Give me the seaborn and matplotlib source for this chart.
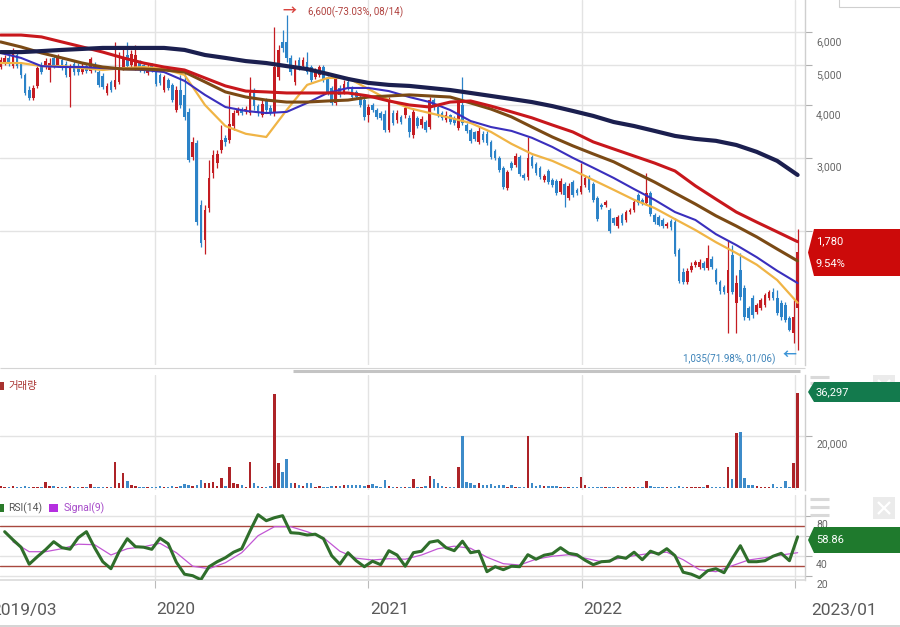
"""
Weekly candlestick chart with moving averages, a volume panel and an RSI panel.
Values are read off a screenshot of a brokerage app chart (2019/04 - 2023/01).
"""

import numpy as np
import pandas as pd
import matplotlib
matplotlib.use("Agg")
import matplotlib.pyplot as plt
import matplotlib.dates as mdates
from matplotlib.lines import Line2D
from matplotlib.patches import Polygon, Rectangle
from matplotlib.ticker import NullLocator
import seaborn as sns

sns.set_theme(style="white")
plt.rcParams["font.family"] = ["Roboto", "Noto Sans CJK KR", "DejaVu Sans"]

# Constants
OUT_FILE = "out.png"
FIG_W, FIG_H = 900, 627
FIRST_WEEK = "2019-04-12"

# ---------------------------------------------------------------- data
# weekly candles (KRW), one value per week starting FIRST_WEEK
opens = [
    4945, 5055, 5200, 4970, 5285, 5030, 4735, 4355, 4170, 4455,
    4970, 4945, 4865, 5200, 5000, 5140, 5030, 4680, 5030, 4970,
    4810, 4970, 4840, 5000, 4810, 4705, 4285, 4555, 4430, 4555,
    4915, 5285, 5000, 4915, 5080, 5000, 4785, 5000, 4865, 4735,
    4355, 4605, 4480, 3900, 4355, 4240, 3860, 3010, 3250, 2310,
    1905, 2270, 2755, 2910, 3130, 3345, 3305, 3570, 3835, 3900,
    3880, 3835, 4355, 3985, 3795, 4100, 3940, 3835, 4680, 5680,
    5680, 5200, 4555, 5140, 4970, 5080, 4945, 4680, 4735, 4945,
    4655, 4405, 4055, 4405, 4310, 4555, 4405, 4310, 4190, 4120,
    3795, 4010, 3900, 3835, 3815, 3495, 3835, 3690, 3755, 3795,
    3735, 3400, 3735, 3590, 3650, 3550, 4120, 3965, 3835, 3690,
    3795, 3735, 3530, 4010, 3590, 3495, 3455, 3270, 3415, 3415,
    3270, 3110, 2990, 2830, 2535, 2910, 2880, 3010, 2725, 2695,
    3010, 2895, 2835, 2650, 2785, 2650, 2635, 2480, 2595, 2400,
    2620, 2510, 2480, 2580, 2695, 2595, 2400, 2310, 2310, 2245,
    2150, 2055, 2185, 2125, 2220, 2245, 2440, 2375, 2335, 2465,
    2185, 2160, 2125, 2055, 2115, 2100, 1800, 1595, 1510, 1610,
    1660, 1640, 1675, 1630, 1715, 1610, 1510, 1470, 1420, 1750,
    1345, 1610, 1460, 1310, 1380, 1280, 1305, 1330, 1380, 1430,
    1380, 1345, 1330, 1235, 1140, 1310,
]
closes = [
    5140, 5200, 5030, 5370, 4970, 4735, 4285, 4170, 4405, 4915,
    4810, 5110, 5055, 4970, 5230, 4945, 4735, 4945, 4810, 4810,
    4970, 4840, 5170, 4865, 4480, 4430, 4455, 4355, 4605, 4915,
    5230, 4970, 5315, 5285, 4865, 4840, 4945, 4890, 4505, 4530,
    4680, 4405, 4120, 4355, 4010, 3755, 2960, 3270, 2100, 1870,
    2245, 2680, 3045, 3060, 3305, 3270, 3610, 3835, 3900, 3835,
    3920, 4285, 3985, 3835, 4030, 3900, 3835, 4945, 5435, 5495,
    5200, 4810, 4945, 4945, 5140, 4810, 4605, 4865, 4945, 4605,
    4310, 4055, 4655, 4240, 4505, 4405, 4190, 4190, 4010, 3755,
    3965, 3900, 3755, 3735, 3495, 4120, 3630, 3835, 3650, 3940,
    3455, 3860, 3570, 3710, 3495, 4120, 3965, 3795, 3735, 3795,
    3650, 3630, 4100, 3630, 3475, 3290, 3325, 3475, 3305, 3250,
    3010, 2990, 2800, 2550, 2770, 2835, 3025, 2740, 2680, 2990,
    2865, 2755, 2695, 2710, 2620, 2580, 2465, 2635, 2440, 2565,
    2440, 2465, 2565, 2680, 2510, 2375, 2135, 2285, 2350, 2000,
    2090, 2160, 2090, 2220, 2245, 2350, 2335, 2335, 2465, 2195,
    2100, 2065, 2055, 2080, 2045, 1760, 1520, 1510, 1605, 1650,
    1685, 1685, 1630, 1725, 1640, 1510, 1435, 1430, 1610, 1430,
    1500, 1390, 1245, 1235, 1260, 1330, 1365, 1405, 1430, 1380,
    1270, 1245, 1225, 1160, 1245, 1780,
]
highs = [
    5230, 5285, 5285, 5495, 5370, 5080, 4785, 4455, 4480, 4970,
    5080, 5200, 5200, 5285, 5315, 5200, 5110, 5030, 5110, 5055,
    5080, 5030, 5230, 5080, 4865, 4785, 4530, 4605, 5680, 5370,
    5525, 5680, 5435, 5585, 5140, 5055, 5030, 5055, 4915, 4785,
    4735, 4655, 4530, 4455, 4735, 4785, 3940, 3360, 3305, 2375,
    2310, 2960, 3130, 3130, 3590, 3400, 4240, 3900, 3965, 3965,
    3985, 4680, 4405, 4030, 4120, 4170, 4010, 6170, 5585, 6070,
    6600, 5285, 5140, 5230, 5230, 5370, 5000, 4915, 5000, 5000,
    4705, 4455, 4735, 4480, 4605, 4605, 4455, 4355, 4240, 4170,
    4030, 4055, 3940, 3880, 3900, 4190, 3900, 3900, 3795, 4010,
    3795, 3940, 3775, 3775, 3690, 4190, 4170, 4010, 3880, 3880,
    3815, 3775, 4170, 4680, 3630, 3535, 3475, 3550, 3475, 3475,
    3305, 3145, 3025, 2865, 2800, 2945, 3075, 3045, 2755, 3360,
    3045, 2930, 2865, 2740, 2815, 2680, 2665, 2680, 2620, 2610,
    2650, 2535, 2910, 2725, 2725, 2620, 2425, 2335, 2375, 2270,
    2160, 2185, 2210, 2245, 2270, 2375, 2465, 2400, 2755, 2495,
    2210, 2185, 2150, 2100, 2135, 2150, 1820, 1630, 1630, 1685,
    1705, 1715, 1695, 1850, 1745, 1630, 1525, 1485, 1905, 1850,
    1570, 1770, 1485, 1320, 1405, 1340, 1380, 1420, 1445, 1460,
    1445, 1365, 1350, 1250, 1365, 2020,
]
lows = [
    4890, 5000, 4970, 4915, 4915, 4655, 4240, 4120, 4120, 4405,
    4760, 4890, 4555, 4915, 4945, 4865, 4680, 3960, 4735, 4735,
    4760, 4785, 4785, 4810, 4430, 4380, 4240, 4310, 4380, 4505,
    4865, 4915, 4945, 4865, 4810, 4785, 4735, 4810, 4455, 4480,
    4310, 4355, 4075, 3860, 3940, 3690, 2930, 2960, 2065, 1830,
    1760, 2220, 2680, 2835, 3075, 3200, 3250, 3495, 3795, 3795,
    3815, 3795, 3900, 3775, 3755, 3835, 3795, 3775, 4605, 5370,
    5080, 4735, 4480, 4865, 4890, 4760, 4555, 4630, 4680, 4555,
    4240, 4010, 4010, 4190, 4260, 4355, 4145, 4145, 3965, 3690,
    3650, 3860, 3710, 3690, 3455, 3455, 3590, 3630, 3610, 3735,
    3360, 3345, 3530, 3530, 3455, 3515, 3900, 3755, 3690, 3650,
    3610, 3590, 3495, 3590, 3435, 3250, 3290, 3235, 3270, 3215,
    2975, 2960, 2770, 2520, 2510, 2800, 2850, 2710, 2650, 2650,
    2835, 2725, 2665, 2620, 2595, 2550, 2440, 2455, 2285, 2375,
    2415, 2440, 2455, 2550, 2480, 2350, 2115, 2260, 2285, 1980,
    2065, 2030, 2065, 2100, 2195, 2220, 2310, 2310, 2310, 2170,
    2080, 2055, 2030, 2030, 2010, 1745, 1500, 1495, 1495, 1595,
    1640, 1620, 1610, 1610, 1620, 1495, 1410, 1410, 1140, 1410,
    1140, 1365, 1225, 1225, 1240, 1265, 1295, 1315, 1365, 1365,
    1260, 1225, 1210, 1150, 1080, 1035,
]
volume = [
    700, 500, 600, 900, 500, 600, 700, 500, 600, 500,
    600, 2500, 1000, 900, 500, 500, 600, 700, 500, 600,
    500, 500, 1500, 600, 500, 400, 500, 600, 10100, 1900,
    5900, 2800, 1300, 800, 600, 500, 600, 500, 600, 700,
    600, 500, 700, 600, 800, 1500, 1300, 700, 1300, 3200,
    1900, 1900, 2500, 700, 3800, 900, 8200, 2200, 1600, 1300,
    600, 9900, 1900, 700, 500, 600, 700, 35700, 9500, 6300,
    11100, 1900, 1900, 1300, 700, 1900, 1900, 500, 900, 500,
    600, 700, 1000, 1000, 1200, 1100, 1200, 1300, 1100, 900,
    1400, 1500, 700, 600, 3200, 700, 600, 500, 600, 500,
    600, 3600, 600, 500, 700, 4800, 3600, 1900, 800, 600,
    500, 600, 8000, 20000, 2500, 1900, 1300, 1900, 1300, 1300,
    1600, 900, 1300, 1300, 600, 1300, 500, 400, 600, 20000,
    2100, 900, 1300, 900, 700, 900, 700, 600, 500, 500,
    500, 600, 4200, 1300, 500, 400, 500, 400, 400, 500,
    400, 500, 400, 400, 500, 400, 500, 600, 2900, 900,
    500, 400, 400, 500, 400, 600, 700, 500, 600, 500,
    500, 600, 500, 1300, 500, 600, 500, 600, 8000, 3600,
    20900, 21500, 3900, 1300, 1300, 700, 600, 600, 600, 1500,
    500, 500, 2800, 400, 9700, 36297,
]

# moving averages, read every 5th week
MA_EVERY = 5
ma_yellow = [5055, 5055, 4970, 4970, 4915, 4865, 4915, 4945, 4890, 4735,
             4010, 3570, 3420, 3360, 3900, 4480, 4655, 4655, 4380, 4120,
             3940, 3835, 3735, 3630, 3455, 3235, 3060, 2945, 2800, 2650,
             2510, 2375, 2270, 2135, 2010, 1880, 1770, 1660, 1525, 1345]
ma_blue = [5345, 5200, 4970, 4945, 4945, 4915, 4890, 4865, 4810, 4580,
           4240, 3965, 3880, 3835, 3860, 4055, 4285, 4405, 4405, 4330,
           4190, 4075, 3900, 3670, 3550, 3475, 3345, 3180, 2995, 2835,
           2680, 2520, 2375, 2220, 2125, 1965, 1850, 1730, 1605, 1500]
ma_brown = [5680, 5525, 5345, 5200, 5055, 4945, 4890, 4890, 4865, 4810,
            4555, 4310, 4190, 4120, 4075, 4075, 4100, 4120, 4190, 4215,
            4240, 4215, 4190, 4055, 3920, 3755, 3550, 3360, 3200, 3060,
            2930, 2770, 2620, 2465, 2320, 2175, 2055, 1935, 1810, 1695]
ma_red = [5900, 5900, 5840, 5680, 5525, 5370, 5200, 5055, 4945, 4865,
          4655, 4455, 4330, 4310, 4285, 4285, 4285, 4285, 4215, 4100,
          4010, 3965, 4075, 4100, 3985, 3860, 3735, 3590, 3455, 3270,
          3145, 3025, 2910, 2785, 2565, 2385, 2220, 2100, 1990, 1885]
ma_navy = [5370, 5370, 5400, 5435, 5465, 5495, 5495, 5495, 5495, 5435,
           5285, 5200, 5110, 5055, 4970, 4890, 4760, 4630, 4530, 4480,
           4455, 4405, 4355, 4285, 4215, 4145, 4075, 3985, 3880, 3775,
           3650, 3570, 3475, 3380, 3325, 3290, 3215, 3095, 2945, 2725]

# RSI(14) read every 2nd week (from week 1), Signal(9) every 4th (from week 3)
rsi_values = [64, 56, 48.5, 31.5, 39, 46, 54, 48, 46.5, 58,
              64, 48, 34, 27, 44, 57, 49, 48.5, 46.4, 57.5,
              52, 33.5, 21.5, 20, 16, 29, 34, 38, 43.5, 47,
              64.5, 81, 75, 78, 80, 63, 62.4, 60.7, 61.5, 57,
              40, 31.5, 43, 35, 29, 34.5, 31, 45, 40.7, 29.5,
              43, 44.5, 53.5, 55, 48,
              45, 54.5, 43, 44.5, 24, 29, 26, 29.5, 29, 41,
              36.5, 40.5, 42, 48, 42.4, 41, 35.5, 31, 34, 34.5,
              39, 37.4, 43.5, 36, 44.5, 41.5, 47, 40, 23.5, 21.5,
              18, 25, 27, 23, 37, 50, 34, 34, 35, 39.5,
              42.4, 35, 58.86]
signal_values = [54, 44, 44, 47, 51.5, 51, 40.7, 47, 49, 52.4,
                 43, 29.5, 27, 33, 43, 60, 69, 69, 64, 58,
                 44.5, 37.5, 35.7, 37, 36.5, 40.7, 47,
                 49.5, 47.4, 38.5, 32, 30.7, 36.5, 39.5, 41, 37.5, 34,
                 37, 40, 42.4, 43.5, 36, 26, 24, 30, 35.7, 38,
                 40.7, 43]

price_ticks = [2000, 3000, 4000, 5000, 6000]
price_labels = [3000, 4000, 5000, 6000]      # 2,000 sits under the price tag
volume_ticks = [20000]
rsi_ticks = [80, 60, 40, 20]
rsi_labels = [80, 40, 20]                    # 60 sits under the RSI tag
rsi_bands = [70, 30]
x_labels = ["2019/03", "2020", "2021", "2022", "2023/01"]
x_label_dates = ["2019-03-01", "2020-01-01", "2021-01-01", "2022-01-01", "2023-01-01"]
year_lines = ["2020-01-01", "2021-01-01", "2022-01-01", "2023-01-01"]
last_change = "9.54%"

# ---------------------------------------------------------------- style
UP = "#c41c22"
DOWN = "#2c83c8"
VOL_UP = "#ad2328"
VOL_DOWN = "#3d8bc9"
GRID = "#e3e3e3"
TEXT = "#666666"
X_LABEL_SHIFT = [15, 2, 2, 2, 17]   # px, label start right of its date line
X_START = pd.Timestamp("2019-04-11")
X_END = pd.Timestamp("2023-01-18") + pd.Timedelta(hours=16)


def px_x(x):
    return x / FIG_W


def px_y(y):
    return 1 - y / FIG_H


def right_labels(ax, values, drop_px, fmt="{:,}"):
    for v in values:
        ax.annotate(fmt.format(v), xy=(1, v), xycoords=("axes fraction", "data"),
                    xytext=(8, -drop_px * 0.72), textcoords="offset points",
                    ha="left", va="center", fontsize=7.5, color=TEXT,
                    annotation_clip=False)


def tag(fig, y_top, y_bot, color, lines):
    ym = (y_top + y_bot) / 2
    pts = [(808, ym), (814, y_top), (905, y_top), (905, y_bot), (814, y_bot)]
    fig.add_artist(Polygon([(px_x(x), px_y(y)) for x, y in pts], closed=True,
                           transform=fig.transFigure, facecolor=color,
                           edgecolor="none", zorder=5))
    step = (y_bot - y_top) / len(lines)
    for k, s in enumerate(lines):
        fig.text(px_x(816), px_y(y_top + (k + 0.5) * step), s, color="white",
                 fontsize=8, ha="left", va="center", zorder=6)


def fig_rect(fig, x0, y0, x1, y1, color, zorder=4):
    fig.add_artist(Rectangle((px_x(x0), px_y(y1)), (x1 - x0) / FIG_W, (y1 - y0) / FIG_H,
                             transform=fig.transFigure, facecolor=color,
                             edgecolor="none", zorder=zorder))


def fig_line(fig, x0, x1, y0, y1, color, lw, zorder=4):
    fig.add_artist(Line2D([px_x(x0), px_x(x1)], [px_y(y0), px_y(y1)],
                          transform=fig.transFigure, color=color, lw=lw,
                          solid_capstyle="butt", zorder=zorder))


def main():
    dates = pd.date_range(FIRST_WEEK, periods=len(closes), freq="W-FRI")
    xd = mdates.date2num(dates)
    o, h, l, c = (np.array(v, dtype=float) for v in (opens, highs, lows, closes))
    rising = c >= o

    fig = plt.figure(figsize=(FIG_W / 100, FIG_H / 100), dpi=100)
    ax = fig.add_axes([0, px_y(365), px_x(805), 365 / FIG_H])
    ax_vol = fig.add_axes([0, px_y(490), px_x(805), 115 / FIG_H])
    ax_rsi = fig.add_axes([0, px_y(580), px_x(805), 85 / FIG_H])

    x_lim = (mdates.date2num(X_START), mdates.date2num(X_END))
    year_x = mdates.date2num(pd.to_datetime(year_lines))

    # price panel
    ax.vlines(xd, l, h, colors=np.where(rising, UP, DOWN), lw=0.9, zorder=2)
    ax.bar(xd, np.abs(c - o), bottom=np.minimum(o, c), width=4.6,
           color=np.where(rising, UP, DOWN), lw=0, zorder=3)
    ma_x = xd[::MA_EVERY]
    for vals, color, lw in ((ma_yellow, "#f0b445", 1.6), (ma_blue, "#3a2fbd", 1.5),
                            (ma_brown, "#7b4a15", 2.2), (ma_red, "#c8171c", 2.2),
                            (ma_navy, "#1b1f4f", 3.0)):
        sns.lineplot(x=ma_x, y=vals, ax=ax, color=color, linewidth=lw, zorder=4)
    ax.set_yscale("log")
    ax.set_ylim(954, 7160)
    for v in price_ticks:
        ax.axhline(v, color=GRID, lw=1, zorder=0)

    hi = int(np.argmax(h))
    lo = int(np.argmin(l))
    ax.annotate("→", xy=(xd[hi], h[hi]), xytext=(3 * 0.72, 4 * 0.72),
                textcoords="offset points", ha="center", va="center",
                fontsize=10, fontweight="bold", color="#d9443f")
    ax.annotate(f"{h[hi]:,.0f}({(c[-1] / h[hi] - 1) * 100:.2f}%, {dates[hi]:%m/%d})",
                xy=(xd[hi], h[hi]), xytext=(21 * 0.72, 3 * 0.72),
                textcoords="offset points", ha="left", va="center",
                fontsize=7, color="#b0413e")
    ax.annotate("←", xy=(xd[lo], l[lo]), xytext=(-8 * 0.72, -5 * 0.72),
                textcoords="offset points", ha="center", va="center",
                fontsize=10, fontweight="bold", color="#3b93d6")
    ax.annotate(f"{l[lo]:,.0f}({(c[-1] / l[lo] - 1) * 100:.2f}%, {dates[lo]:%m/%d})",
                xy=(xd[lo], l[lo]), xytext=(-22 * 0.72, -9 * 0.72),
                textcoords="offset points", ha="right", va="center",
                fontsize=7, color="#3b82b8")

    # volume panel
    ax_vol.bar(xd, volume, width=4.2, color=np.where(rising, VOL_UP, VOL_DOWN),
               lw=0, zorder=3)
    ax_vol.set_ylim(-650, 43050)
    for v in volume_ticks:
        ax_vol.axhline(v, color=GRID, lw=1, zorder=0)

    # RSI panel
    for v in rsi_ticks:
        ax_rsi.axhline(v, color=GRID, lw=1, zorder=0)
    for v in rsi_bands:
        ax_rsi.axhline(v, color="#a8483f", lw=1, zorder=1)
    sns.lineplot(x=xd[3::4], y=signal_values, ax=ax_rsi, color="#c257d4",
                 linewidth=0.9, zorder=3)
    sns.lineplot(x=xd[1::2], y=rsi_values, ax=ax_rsi, color="#2f6e2b",
                 linewidth=2.2, zorder=4)
    ax_rsi.set_ylim(15.7, 100.7)

    # common axis styling
    for a, ticks in ((ax, price_ticks), (ax_vol, volume_ticks), (ax_rsi, rsi_ticks)):
        a.set_xlim(*x_lim)
        a.set_facecolor("white")
        a.set_xlabel("")
        a.set_ylabel("")
        for s in ("left", "top", "bottom"):
            a.spines[s].set_visible(False)
        a.spines["right"].set_color("#cfcfcf")
        a.spines["right"].set_linewidth(1)
        for yx in year_x:
            a.axvline(yx, color=GRID, lw=1, zorder=0)
        a.yaxis.tick_right()
        a.set_yticks(ticks)
        a.yaxis.set_minor_locator(NullLocator())
        a.tick_params(axis="y", which="both", right=True, left=False, length=5,
                      width=0.8, color="#b0b0b0", labelright=False, labelleft=False)
        a.set_xticks([])

    ax_rsi.spines["bottom"].set_visible(True)
    ax_rsi.spines["bottom"].set_color("#dcdcdc")
    ax_rsi.set_xticks(year_x)
    ax_rsi.tick_params(axis="x", bottom=True, length=6, width=0.8,
                       color="#bbbbbb", labelbottom=False, direction="out")

    right_labels(ax, price_labels, 10)
    right_labels(ax_vol, volume_ticks, 9)
    right_labels(ax_rsi, rsi_labels, 9)

    for lbl, d, shift in zip(x_labels, x_label_dates, X_LABEL_SHIFT):
        ax_rsi.annotate(lbl, xy=(mdates.date2num(pd.Timestamp(d)), 0),
                        xycoords=("data", "axes fraction"),
                        xytext=(shift * 0.72, -30 * 0.72), textcoords="offset points",
                        ha="left", va="center", fontsize=12.5, color="#5a5a5a",
                        annotation_clip=False)

    # panel separators and app chrome
    fig_line(fig, 0, 805, 367.5, 367.5, "#d4d4d4", 0.8)
    fig_line(fig, 293, 800, 370.5, 370.5, "#c4c4c4", 2.2)
    fig_line(fig, 0, 900, 625.5, 625.5, "#d4d4d4", 1.4)
    fig.add_artist(Rectangle((px_x(839), px_y(7)), 70 / FIG_W, 20 / FIG_H,
                             transform=fig.transFigure, facecolor="white",
                             edgecolor="#cfcfcf", lw=0.8, zorder=4))
    for yb in (377, 383, 389, 499, 507, 515):
        fig_line(fig, 810, 829, yb, yb, "#d9d9d9", 2.2)
    for y0 in (375, 497):
        fig_rect(fig, 873, y0, 895, y0 + 22, "#ebebeb")
        fig_line(fig, 878, 890, y0 + 5, y0 + 17, "white", 1.6, zorder=5)
        fig_line(fig, 878, 890, y0 + 17, y0 + 5, "white", 1.6, zorder=5)

    # current value tags
    tag(fig, 229, 276, "#cc0a0a", [f"{c[-1]:,.0f}", last_change])
    tag(fig, 382, 402, "#137a4d", [f"{volume[-1]:,}"])
    tag(fig, 527, 553, "#1f7a2d", [f"{rsi_values[-1]:.2f}"])

    # panel legends
    fig_rect(fig, 0, 382, 3.5, 390, "#a8322f")
    fig.text(px_x(8), px_y(386), "거래량", color="#a8322f", fontsize=7.5,
             ha="left", va="center", family=["Noto Sans CJK KR", "DejaVu Sans"])
    fig_rect(fig, 0, 504, 3.5, 512, "#2a7a2a")
    fig.text(px_x(8), px_y(508), "RSI(14)", color="#555555", fontsize=7.5,
             ha="left", va="center")
    fig_rect(fig, 49, 504, 58, 512, "#b52fe0")
    fig.text(px_x(64), px_y(508), "Signal(9)", color="#a64ac9", fontsize=7.5,
             ha="left", va="center")

    fig.savefig(OUT_FILE, dpi=100, facecolor="white")
    plt.close(fig)


if __name__ == "__main__":
    main()
